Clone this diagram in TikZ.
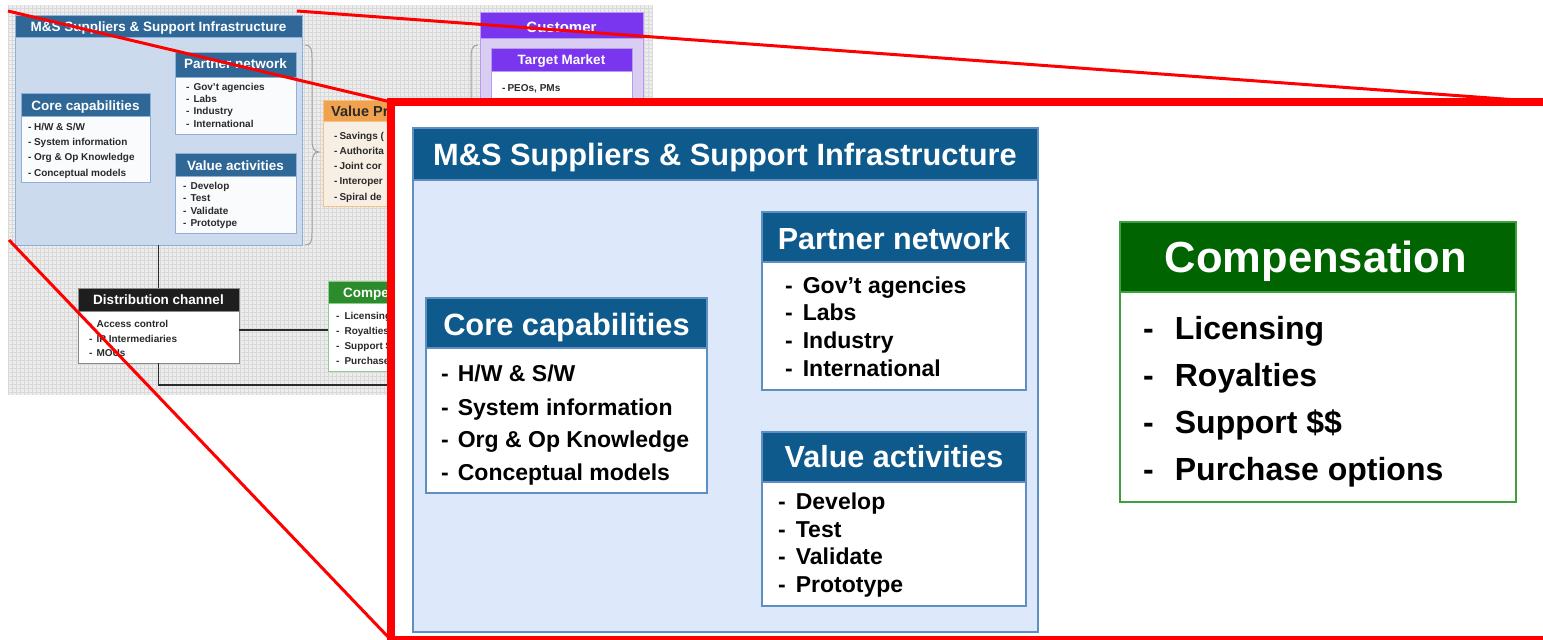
\documentclass[tikz,border=0pt]{standalone}
\usepackage{fontspec}
\setmainfont{Liberation Sans}
\definecolor{iblue}{HTML}{0F5A8C}
\definecolor{ibody}{HTML}{DDE8FA}
\definecolor{iedge}{HTML}{5F8FC2}
\definecolor{igreen}{HTML}{006400}
\definecolor{igedge}{HTML}{3F9F3F}
\definecolor{gridbg}{HTML}{EDEDED}
\definecolor{gridln}{HTML}{D9D9D9}
\definecolor{tblue}{HTML}{2F6797}
\definecolor{tbody}{HTML}{C9D9F0}
\definecolor{tedge}{HTML}{8FB0D8}
\definecolor{torange}{HTML}{F0A24E}
\definecolor{tobody}{HTML}{F8EFE4}
\definecolor{toedge}{HTML}{F5C185}
\definecolor{tpurple}{HTML}{7A35EE}
\definecolor{tpbody}{HTML}{D9CBF4}
\definecolor{tpedge}{HTML}{B49AF0}
\definecolor{tgreen}{HTML}{2C8C2C}
\definecolor{tgedge}{HTML}{8FCB8F}
\definecolor{tblack}{HTML}{1E1E1E}
\definecolor{tgray}{HTML}{8A8A8A}
\definecolor{bracec}{HTML}{A0A0A0}
\definecolor{ttext}{HTML}{2A2A2A}
\begin{document}
\begin{tikzpicture}[x=1pt,y=-1pt,
  hd/.style={font=\fontsize{#1}{#1}\selectfont\bfseries, text=white, inner sep=0pt, anchor=base},
  tx/.style={font=\fontsize{#1}{#1}\selectfont\bfseries, text=ttext, inner sep=0pt, anchor=base west},
  tbox/.style={anchor=north west, inner sep=0pt, outer sep=0pt, line width=0.8pt},
  ibox/.style={anchor=north west, inner sep=0pt, outer sep=0pt, line width=1.2pt},
  conn/.style={draw=ttext, line width=1.6pt},
  redline/.style={draw=red, line width=3pt},
  bracestyle/.style={draw=bracec, line width=1pt}]
\useasboundingbox (0,0) rectangle (1543,640);
\clip (0,0) rectangle (1543,640);

% ---------- thumbnail background ----------
\fill[gridbg] (8,5) rectangle (652,395);
\draw[gridln, line width=0.4pt, step=4pt] (8,5) grid (652,395);

% ---------- thumbnail: M&S ----------
\node[tbox, draw=tedge, fill=tbody, fill opacity=0.85, minimum width=287pt, minimum height=230pt] (tms) at (15,15) {};
\node[tbox, draw=tedge, fill=tblue, minimum width=287pt, minimum height=22pt] (tmsh) at (15,15) {};
\node[hd=13.5] (tmst) at (158.5,31) {M\&S Suppliers \& Support Infrastructure};

\node[tbox, draw=tedge, fill=white, fill opacity=0.9, minimum width=121pt, minimum height=82pt] (tpn) at (175,52) {};
\node[tbox, draw=tedge, fill=tblue, minimum width=121pt, minimum height=25pt] (tpnh) at (175,52) {};
\node[hd=13.5] (tpnt) at (235.5,68.5) {Partner network};
\node[tx=10] (tpn1) at (186,90) {-\hspace{4pt}Gov't agencies};
\node[tx=10] (tpn2) at (186,102) {-\hspace{4pt}Labs};
\node[tx=10] (tpn3) at (186,114.5) {-\hspace{4pt}Industry};
\node[tx=10] (tpn4) at (186,127) {-\hspace{4pt}International};

\node[tbox, draw=tedge, fill=white, fill opacity=0.9, minimum width=129pt, minimum height=89pt] (tcc) at (21,93) {};
\node[tbox, draw=tedge, fill=tblue, minimum width=129pt, minimum height=23pt] (tcch) at (21,93) {};
\node[hd=13.5] (tcct) at (85.5,110) {Core capabilities};
\node[tx=10] (tcc1) at (28,130) {-\hspace{2.5pt}H/W \& S/W};
\node[tx=10] (tcc2) at (28,145.5) {-\hspace{2.5pt}System information};
\node[tx=10] (tcc3) at (28,160.5) {-\hspace{2.5pt}Org \& Op Knowledge};
\node[tx=10] (tcc4) at (28,176) {-\hspace{2.5pt}Conceptual models};

\node[tbox, draw=tedge, fill=white, fill opacity=0.9, minimum width=121pt, minimum height=80pt] (tva) at (175,153) {};
\node[tbox, draw=tedge, fill=tblue, minimum width=121pt, minimum height=23pt] (tvah) at (175,153) {};
\node[hd=13.5] (tvat) at (235.5,170) {Value activities};
\node[tx=10] (tva1) at (183,189) {-\hspace{4pt}Develop};
\node[tx=10] (tva2) at (183,201.5) {-\hspace{4pt}Test};
\node[tx=10] (tva3) at (183,214) {-\hspace{4pt}Validate};
\node[tx=10] (tva4) at (183,226.5) {-\hspace{4pt}Prototype};

% brace after M&S
\draw[bracestyle] (305,45) .. controls (311,45) and (312,49) .. (312,58) -- (312,140)
  .. controls (312,148) and (314,152) .. (319,152) .. controls (314,152) and (312,156) .. (312,164)
  -- (312,233) .. controls (312,242) and (311,245) .. (305,245);

% value proposition (partly hidden)
\node[tbox, draw=toedge, fill=tobody, minimum width=130pt, minimum height=106pt] (tvp) at (323,100) {};
\node[tbox, draw=toedge, fill=torange, minimum width=130pt, minimum height=21pt] (tvph) at (323,100) {};
\node[font=\fontsize{14.5}{14.5}\selectfont\bfseries, text=ttext, inner sep=0pt, anchor=base west] (tvpt) at (331,116) {Value Pr};
\node[tx=10] (tvp1) at (334,139) {-\hspace{2pt}Savings (};
\node[tx=10] (tvp2) at (334,154) {-\hspace{2pt}Authorita};
\node[tx=10] (tvp3) at (334,169) {-\hspace{2pt}Joint cor};
\node[tx=10] (tvp4) at (334,184) {-\hspace{2pt}Interoper};
\node[tx=10] (tvp5) at (334,200) {-\hspace{2pt}Spiral de};

% customer
\draw[bracestyle] (478,45) .. controls (472,45) and (471,50) .. (471,58) -- (471,110);
\node[tbox, draw=tpedge, fill=tpbody, fill opacity=0.9, minimum width=163pt, minimum height=120pt] (tcu) at (480,12) {};
\node[tbox, draw=tpedge, fill=tpurple, minimum width=163pt, minimum height=26pt] (tcuh) at (480,12) {};
\node[hd=15] (tcut) at (561.5,32) {Customer};
\node[tbox, draw=tpedge, fill=white, minimum width=141pt, minimum height=80pt] (ttm) at (491,48) {};
\node[tbox, draw=tpedge, fill=tpurple, minimum width=141pt, minimum height=23pt] (ttmh) at (491,48) {};
\node[hd=13.5] (ttmt) at (561.5,64) {Target Market};
\node[tx=10] (ttm1) at (502,91) {-\hspace{2pt}PEOs, PMs};

% distribution channel
\node[tbox, draw=tgray, fill=white, minimum width=161pt, minimum height=75pt] (tdc) at (78,288) {};
\node[tbox, draw=tgray, fill=tblack, minimum width=161pt, minimum height=23pt] (tdch) at (78,288) {};
\node[hd=13.5] (tdct) at (158.5,304.5) {Distribution channel};
\node[tx=10] (tdc1) at (89,327.5) {-\hspace{4pt}Access control};
\node[tx=10] (tdc2) at (89,342) {-\hspace{4pt}IP Intermediaries};
\node[tx=10] (tdc3) at (89,356.5) {-\hspace{4pt}MOUs};

% compensation (thumbnail)
\node[tbox, draw=tgedge, fill=white, minimum width=130pt, minimum height=90pt] (tco) at (328,281) {};
\node[tbox, draw=tgedge, fill=tgreen, minimum width=130pt, minimum height=22pt] (tcoh) at (328,281) {};
\node[hd=13.5, anchor=base west] (tcot) at (343,297) {Compensation};
\node[tx=10] (tco1) at (336,319) {-\hspace{5pt}Licensing};
\node[tx=10] (tco2) at (336,334.5) {-\hspace{5pt}Royalties};
\node[tx=10] (tco3) at (336,349.5) {-\hspace{5pt}Support \$\$};
\node[tx=10] (tco4) at (336,364.5) {-\hspace{5pt}Purchase options};

% connectors
\coordinate (busend) at (420,385);
\draw[conn] (tms.south) -- (tdc.north);
\draw[conn] (tdc.east |- 0,330) -- (tco.west |- 0,330);
\draw[conn] (tdc.south) |- (busend);

% ---------- inset ----------
\node[anchor=north west, inner sep=0pt, outer sep=0pt, draw=red, fill=white, line width=8pt, minimum width=1200pt, minimum height=538pt] (inset) at (391,102) {};

\node[ibox, draw=iedge, fill=ibody, minimum width=625pt, minimum height=504pt] (ms) at (413,128) {};
\node[ibox, draw=iedge, fill=iblue, minimum width=625pt, minimum height=52pt] (msh) at (413,128) {};
\node[hd=30.8] (mst) at (725,165) {M\&S Suppliers \& Support Infrastructure};

\node[ibox, draw=iedge, fill=white, minimum width=264pt, minimum height=178pt] (pn) at (762,212) {};
\node[ibox, draw=iedge, fill=iblue, minimum width=264pt, minimum height=50pt] (pnh) at (762,212) {};
\node[hd=30.5] (pnt) at (894,249) {Partner network};
\node[tx=23, text=black] (pn1) at (785,293) {-\hspace{10pt}Gov't agencies};
\node[tx=23, text=black] (pn2) at (785,320.5) {-\hspace{10pt}Labs};
\node[tx=23, text=black] (pn3) at (785,348) {-\hspace{10pt}Industry};
\node[tx=23, text=black] (pn4) at (785,376) {-\hspace{10pt}International};

\node[ibox, draw=iedge, fill=white, minimum width=281pt, minimum height=195pt] (cc) at (426,298) {};
\node[ibox, draw=iedge, fill=iblue, minimum width=281pt, minimum height=50pt] (cch) at (426,298) {};
\node[hd=30.8] (cct) at (566.5,335) {Core capabilities};
\node[tx=23, text=black] (cc1) at (441,381) {-\hspace{9pt}H/W \& S/W};
\node[tx=23, text=black] (cc2) at (441,415) {-\hspace{9pt}System information};
\node[tx=23, text=black] (cc3) at (441,447) {-\hspace{9pt}Org \& Op Knowledge};
\node[tx=23, text=black] (cc4) at (441,480) {-\hspace{9pt}Conceptual models};

\node[ibox, draw=iedge, fill=white, minimum width=264pt, minimum height=174pt] (va) at (762,432) {};
\node[ibox, draw=iedge, fill=iblue, minimum width=264pt, minimum height=50pt] (vah) at (762,432) {};
\node[hd=30.5] (vat) at (894,467) {Value activities};
\node[tx=23, text=black] (va1) at (778,509) {-\hspace{10pt}Develop};
\node[tx=23, text=black] (va2) at (778,537) {-\hspace{10pt}Test};
\node[tx=23, text=black] (va3) at (778,564.5) {-\hspace{10pt}Validate};
\node[tx=23, text=black] (va4) at (778,592) {-\hspace{10pt}Prototype};

\node[ibox, draw=igedge, fill=white, minimum width=396pt, minimum height=280pt] (co) at (1120,222) {};
\node[ibox, draw=igedge, fill=igreen, minimum width=396pt, minimum height=70pt] (coh) at (1120,222) {};
\node[hd=43.5] (cot) at (1316,272) {Compensation};
\node[tx=32, text=black] (co1) at (1143,339) {-\hspace{21pt}Licensing};
\node[tx=32, text=black] (co2) at (1143,386) {-\hspace{21pt}Royalties};
\node[tx=32, text=black] (co3) at (1143,433) {-\hspace{21pt}Support \$\$};
\node[tx=32, text=black] (co4) at (1143,480) {-\hspace{21pt}Purchase options};

% ---------- zoom lines ----------
\coordinate (z1) at (8,11);
\coordinate (z2) at (297,11);
\coordinate (z3) at (9,240);
\coordinate (z4) at (1545,102);
\draw[redline] (z1) -- (inset.north west);
\draw[redline] (z2) -- (z4);
\draw[redline] (z3) -- (inset.south west);
\end{tikzpicture}
\end{document}
